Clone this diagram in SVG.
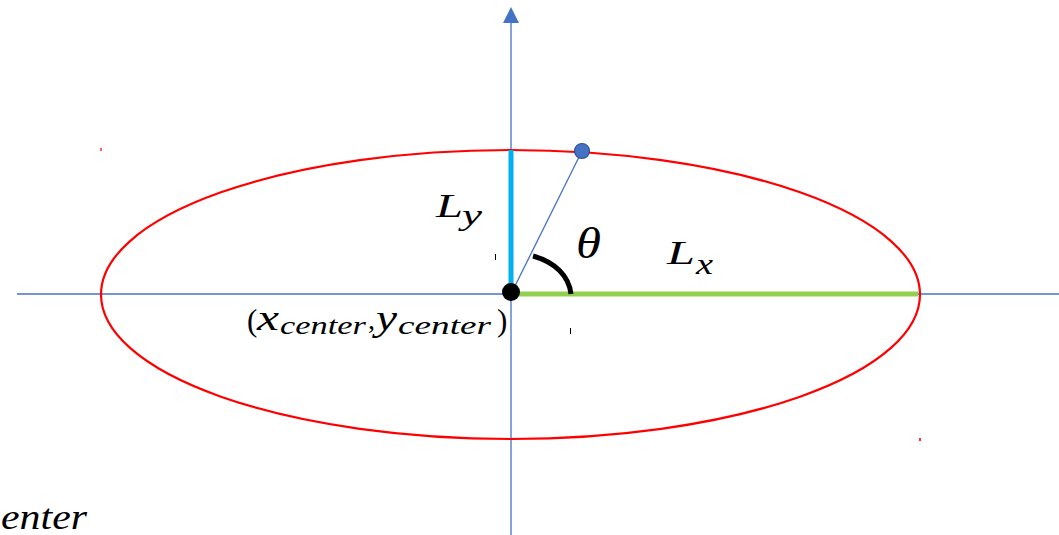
<svg xmlns="http://www.w3.org/2000/svg" width="1059" height="535" viewBox="0 0 1059 535">
<style>
.m{font-family:"Liberation Serif","DejaVu Serif",serif;font-style:italic;fill:#000}
.u{font-style:normal}
.axis{stroke:#4472C4;stroke-width:1.3;fill:none}
</style>
<rect width="1059" height="535" fill="#fff"/>
<g id="connectors">
<line class="axis" x1="17" y1="294" x2="1059" y2="294"/>
<line class="axis" x1="511" y1="535" x2="511" y2="20"/>
<polygon points="511,7 503,23 519,23" fill="#4472C4"/>
<line x1="511" y1="294" x2="582" y2="151" stroke="#4472C4" stroke-width="1.3"/>
</g>
<g id="ellipse">
<ellipse cx="510.5" cy="294.5" rx="409.5" ry="144.5" fill="none" stroke="#FF0000" stroke-width="2.2"/>
<rect x="100" y="148" width="2" height="3" fill="#FF6060"/>
<rect x="919" y="438" width="2" height="3" fill="#FF3030"/>
</g>
<g id="Ly-line">
<line x1="511" y1="150" x2="511" y2="294" stroke="#00B0F0" stroke-width="5"/>
</g>
<g id="Lx-line">
<line x1="511" y1="294" x2="918" y2="294" stroke="#92D050" stroke-width="5"/>
</g>
<g id="angle">
<path d="M533,256 C555,262 569,276 571,294" fill="none" stroke="#000" stroke-width="5"/>
</g>
<g id="point">
<circle cx="582" cy="151" r="7.5" fill="#4472C4" stroke="#2F528F" stroke-width="1.2"/>
</g>
<g id="center">
<circle cx="511" cy="292" r="9" fill="#000"/>
</g>
<g id="marks">
<rect x="495" y="254" width="1" height="6" fill="#000"/>
<rect x="570" y="328" width="1" height="6" fill="#000"/>
</g>
<g id="labels">
<text class="m" x="436" y="217" font-size="34" textLength="27" lengthAdjust="spacingAndGlyphs">L</text>
<text class="m" x="462" y="225" font-size="30" textLength="20" lengthAdjust="spacingAndGlyphs">y</text>
<text class="m" x="576" y="258" font-size="45" textLength="25" lengthAdjust="spacingAndGlyphs">θ</text>
<text class="m" x="667" y="264" font-size="34" textLength="28" lengthAdjust="spacingAndGlyphs">L</text>
<text class="m" x="696" y="274" font-size="30" textLength="17" lengthAdjust="spacingAndGlyphs">x</text>
<text class="m u" x="247" y="331" font-size="31">(</text>
<text class="m" x="257" y="330" font-size="36" textLength="22" lengthAdjust="spacingAndGlyphs">x</text>
<text class="m" x="280" y="334" font-size="26" textLength="86" lengthAdjust="spacingAndGlyphs">center</text>
<text class="m u" x="368" y="329" font-size="28">,</text>
<text class="m" x="376" y="330" font-size="36" textLength="21" lengthAdjust="spacingAndGlyphs">y</text>
<text class="m" x="398" y="334" font-size="26" textLength="93" lengthAdjust="spacingAndGlyphs">center</text>
<text class="m u" x="497" y="331" font-size="31">)</text>
<text class="m" x="1" y="529" font-size="35" textLength="86" lengthAdjust="spacingAndGlyphs">enter</text>
</g>
</svg>
